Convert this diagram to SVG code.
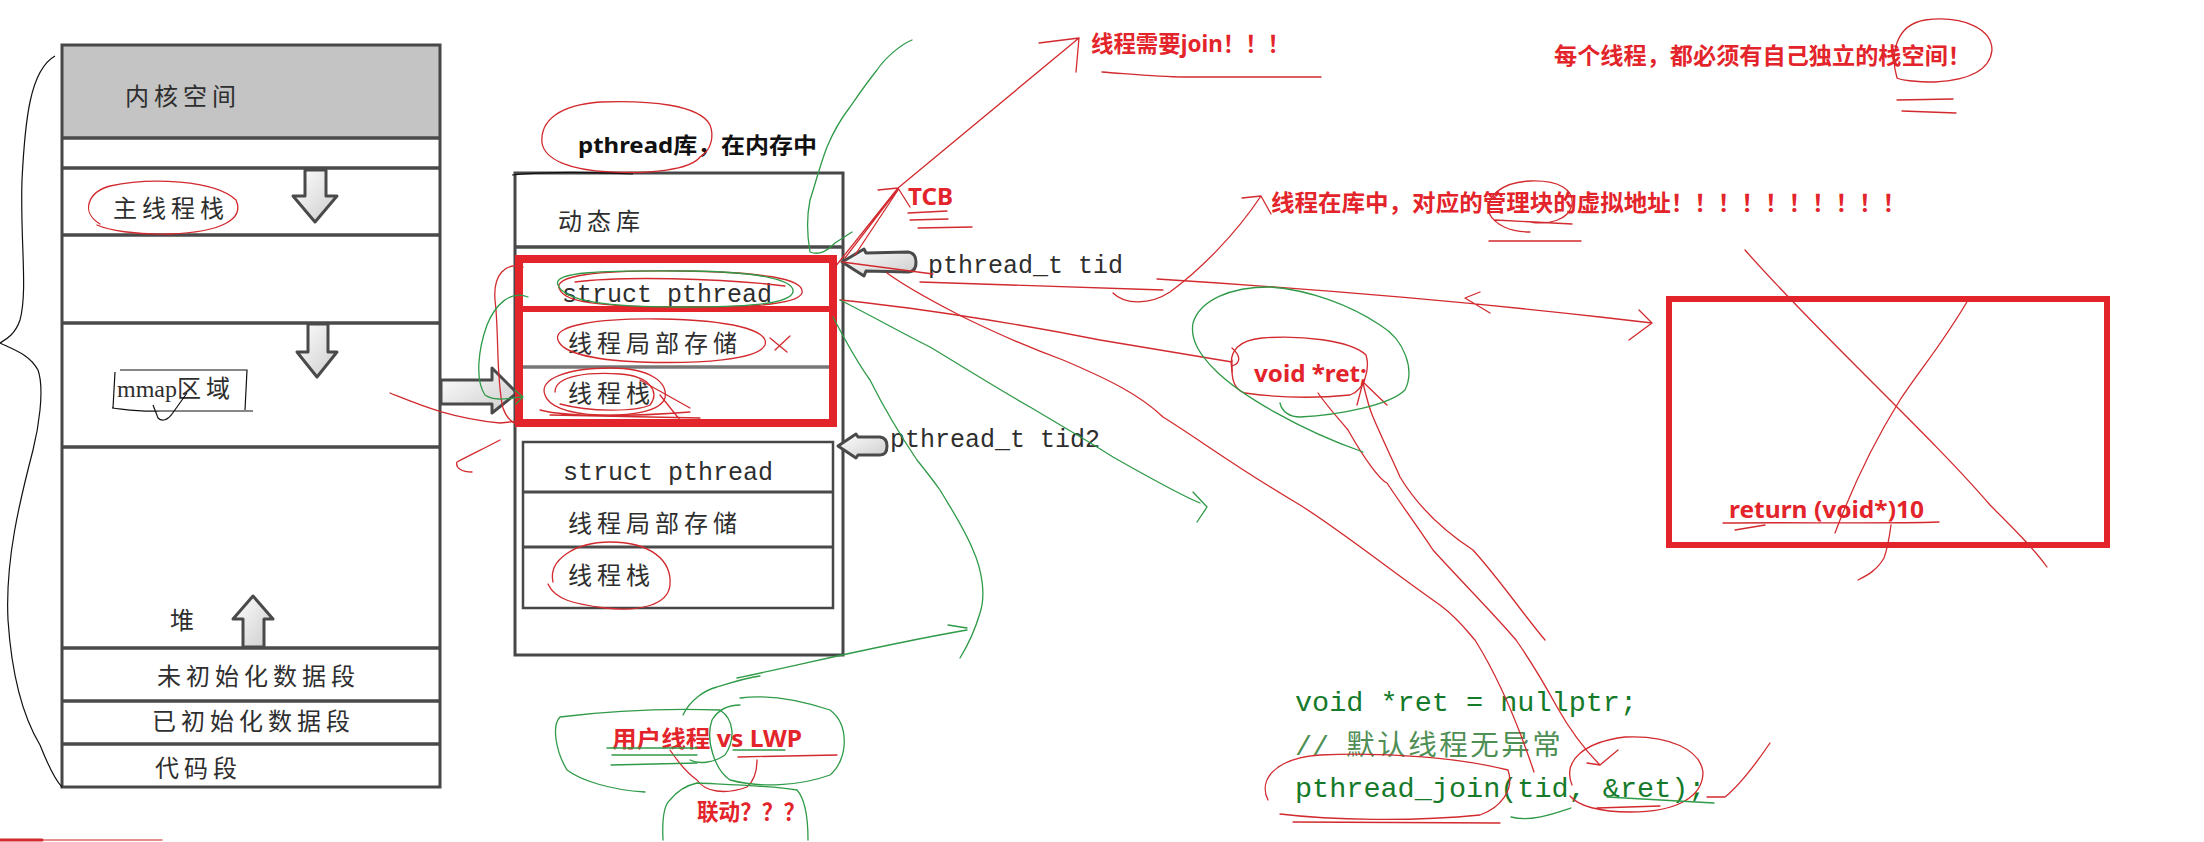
<svg xmlns="http://www.w3.org/2000/svg" width="2204" height="842" viewBox="0 0 2204 842">
<defs>
<style>
.cn{font-family:"Noto Sans CJK SC","Noto Sans",sans-serif;font-size:24px;fill:#2e2e2e;letter-spacing:5px}
.mono{font-family:"Liberation Mono","Noto Sans CJK SC",monospace;font-size:25px;fill:#2e2e2e}
.red{font-family:"Noto Sans","Noto Sans CJK SC",sans-serif;font-weight:bold;font-size:23px;fill:#e3242b}
.blk{font-family:"Noto Sans","Noto Sans CJK SC",sans-serif;font-weight:bold;font-size:22px;fill:#111}
.code{font-family:"Liberation Mono","Noto Sans CJK SC",monospace;font-size:28.5px;fill:#157a2a}
.cmt{fill:#4f8f55}
.frame{fill:none;stroke:#474747;stroke-width:3}
.div{stroke:#4a4a4a;stroke-width:3.5;fill:none}
.arr{fill:url(#ag);stroke:#4a4a4a;stroke-width:3;stroke-linejoin:round}
.rs{fill:none;stroke:#d22a2e;stroke-width:1.3;stroke-linecap:round;stroke-linejoin:round}
.gs{fill:none;stroke:#2f9a48;stroke-width:1.3;stroke-linecap:round;stroke-linejoin:round}
.ks{fill:none;stroke:#111;stroke-width:1.2}
.box{fill:none;stroke:#e3242b}
</style>
<linearGradient id="ag" x1="0" y1="0" x2="1" y2="1">
<stop offset="0" stop-color="#ffffff"/>
<stop offset="1" stop-color="#cccccc"/>
</linearGradient>
</defs>
<rect width="2204" height="842" fill="#ffffff"/>

<g id="address-space">
<rect x="62" y="45" width="378" height="93" fill="#c4c4c4"/>
<rect x="62" y="45" width="378" height="742" class="frame"/>
<path class="div" d="M62,138H440M62,168H440M62,235H440M62,323H440M62,447H440M62,648H440M62,701H440M62,744H440"/>
<text class="cn" x="125" y="105">内核空间</text>
<text class="cn" x="113" y="217">主线程栈</text>
<text class="cn" x="117" y="397" style="font-family:'Liberation Serif','Noto Sans CJK SC',serif;letter-spacing:0">mmap<tspan style="font-family:'Noto Sans CJK SC',sans-serif;letter-spacing:5px">区域</tspan></text>
<text class="cn" x="170" y="629">堆</text>
<text class="cn" x="157" y="685">未初始化数据段</text>
<text class="cn" x="152" y="730">已初始化数据段</text>
<text class="cn" x="155" y="777">代码段</text>
<polygon class="arr" points="305,170 326,170 326,196 337,196 315,222 293,196 305,196"/>
<polygon class="arr" points="308,324 328,324 328,352 337,352 317,377 297,352 308,352"/>
<polygon class="arr" points="253,596 273,619 264,619 264,647 243,647 243,619 233,619"/>
</g>

<g id="mmap-arrow">
<polygon class="arr" points="441,380 492,380 492,368 517,393 492,413 492,404 441,404"/>
</g>

<g id="pthread-library">
<text class="blk" x="578" y="153" textLength="239" lengthAdjust="spacingAndGlyphs">pthread库，在内存中</text>
<rect x="515" y="173" width="328" height="482" class="frame"/>
<path class="div" d="M515,247H843"/>
<text class="cn" x="558" y="230">动态库</text>
<path class="div" d="M523,367H830" style="stroke:#777"/>
<text class="mono" x="562" y="302">struct pthread</text>
<text class="cn" x="568" y="352">线程局部存储</text>
<text class="cn" x="568" y="402">线程栈</text>
<rect x="519" y="259" width="314" height="164" class="box" stroke-width="8"/>
<path class="box" stroke-width="6" d="M519,309H833"/>
<rect x="523" y="442" width="310" height="166" class="frame" style="stroke-width:2.5"/>
<path class="div" d="M523,492H833M523,547H833" style="stroke-width:3"/>
<text class="mono" x="563" y="480">struct pthread</text>
<text class="cn" x="568" y="532">线程局部存储</text>
<text class="cn" x="568" y="584">线程栈</text>
</g>

<g id="tid-labels">
<path class="arr" d="M842,262 L864,249 L866,253 L908,252 Q916,253 916,262 Q916,272 908,272 L866,271 L864,276 Z"/>
<text class="mono" x="928" y="273">pthread_t tid</text>
<path class="arr" d="M838,446 L856,434 L858,437 L880,437 Q887,438 887,446 Q887,455 880,455 L858,455 L856,458 Z"/>
<text class="mono" x="890" y="447">pthread_t tid2</text>
</g>

<g id="notes">
<text class="red" x="908" y="205" style="font-size:24px" textLength="45" lengthAdjust="spacingAndGlyphs">TCB</text>
<text class="red" x="1091" y="52" textLength="199" lengthAdjust="spacingAndGlyphs">线程需要join！！！</text>
<text class="red" x="1554" y="64" textLength="417" lengthAdjust="spacingAndGlyphs">每个线程，都必须有自己独立的栈空间！</text>
<text class="red" x="1271" y="211" textLength="635" lengthAdjust="spacingAndGlyphs">线程在库中，对应的管理块的虚拟地址！！！！！！！！！！</text>
<text class="red" x="1254" y="382" textLength="113" lengthAdjust="spacingAndGlyphs">void *ret;</text>
<text class="red" x="612" y="747" textLength="190" lengthAdjust="spacingAndGlyphs">用户线程 vs LWP</text>
<text class="red" x="697" y="820" textLength="108" lengthAdjust="spacingAndGlyphs">联动？？？</text>
</g>

<g id="thread-return-box">
<rect x="1669" y="299" width="438" height="246" fill="none" stroke="#e3242b" stroke-width="6"/>
<text class="red" x="1729" y="518" textLength="195" lengthAdjust="spacingAndGlyphs">return (void*)10</text>
</g>

<g id="join-code">
<text class="code" x="1295" y="711">void *ret = nullptr;</text>
<text class="code cmt" x="1295" y="755">// <tspan style="letter-spacing:2.5px">默认线程无异常</tspan></text>
<text class="code" x="1295" y="797">pthread_join(tid, &amp;ret);</text>
</g>

<g id="connectors">
<!-- red annotations -->
<path class="rs" d="M700,157 C690,170 650,174 610,172 C570,170 545,160 542,143 C540,120 560,105 600,102 C650,100 700,105 710,125 C714,135 712,150 700,157"/>
<path class="rs" d="M100,224 C80,212 88,192 110,186 C150,177 215,180 236,200 C245,220 220,232 170,234 C135,235 108,230 97,225"/>
<path class="rs" d="M560,290 C550,275 600,270 680,271 C760,272 805,278 802,293 C798,305 740,309 660,307 C600,306 565,302 560,290"/>
<path class="rs" d="M575,282 C620,276 720,278 785,286"/>
<path class="rs" d="M558,340 C552,325 600,318 660,319 C730,320 770,330 765,345 C758,360 700,364 640,362 C590,360 562,352 558,340 Z"/>
<path class="rs" d="M770,338 L787,352 M775,350 L790,336"/>
<path class="rs" d="M545,395 C538,378 570,368 610,368 C650,368 668,382 665,398 C660,412 630,416 600,415 C565,414 548,405 545,395"/>
<path class="rs" d="M555,392 C555,375 590,372 620,374 C650,376 660,392 650,405 C635,412 590,412 560,404"/>
<path class="rs" d="M540,410 C570,418 640,416 690,412 M550,415 L700,418 M640,380 L690,408 M660,395 L680,420"/>
<path class="rs" d="M553,582 C548,560 575,542 610,542 C650,542 672,560 670,585 C668,605 640,612 605,608 C575,604 555,600 548,584"/>
<path class="rs" d="M523,267 C505,262 493,275 495,300 C499,330 496,380 503,408 C507,420 515,424 520,425"/>
<path class="rs" d="M390,393 C420,405 450,418 500,423 L520,421 M500,440 C485,448 470,455 457,462 C455,468 462,472 472,472"/>
<path class="rs" d="M835,267 L898,188 M845,258 L898,189 M855,255 L898,190 M898,188 L1079,38 M878,190 L898,188 L910,207 M1039,43 L1079,38 L1076,72"/>
<path class="rs" d="M908,213 L947,211 M910,220 L948,219 M918,228 L972,227"/>
<path class="rs" d="M1102,72 C1130,74 1160,77 1183,77 L1321,77"/>
<path class="rs" d="M842,262 L933,274 M920,282 C1000,285 1080,288 1163,290 M1113,293 C1125,305 1150,305 1170,292 C1200,270 1235,235 1261,196 M1242,198 L1261,196 L1271,214"/>
<path class="rs" d="M1490,215 C1483,195 1505,182 1530,181 C1560,180 1574,190 1572,205 C1568,220 1550,225 1530,222 M1489,213 C1495,225 1510,232 1530,232 M1489,241 L1581,241 M1495,220 L1572,224"/>
<path class="rs" d="M1897,78 C1890,55 1895,25 1925,20 C1965,15 1992,30 1992,50 C1990,70 1970,80 1935,82 C1915,82 1900,80 1897,78 M1897,100 L1953,99 M1902,111 L1956,113"/>
<path class="rs" d="M840,300 C900,306 1000,320 1100,340 L1232,362 M1232,348 C1240,355 1242,363 1232,366 M1232,360 L1232,372"/>
<path class="rs" d="M1232,370 C1228,350 1240,340 1262,338 C1300,335 1350,340 1366,355 C1370,368 1365,390 1350,395 C1320,398 1280,398 1245,393 C1235,390 1232,380 1232,370"/>
<path class="rs" d="M887,273 C910,290 940,305 963,317 C1000,335 1030,348 1063,360 C1110,380 1140,395 1163,417 C1200,440 1240,470 1300,505 C1340,530 1390,570 1440,605 C1460,620 1470,635 1475,640 C1500,680 1520,730 1534,772"/>
<path class="rs" d="M1318,393 C1330,410 1340,420 1348,430 C1365,460 1380,480 1387,483 C1405,510 1420,530 1433,550 C1460,580 1495,615 1516,640 C1530,660 1545,685 1557,707 C1570,730 1585,750 1600,765 M1587,763 L1600,765 L1618,750"/>
<path class="rs" d="M1363,383 C1367,400 1370,410 1373,417 C1385,445 1395,465 1400,477 C1420,510 1450,535 1473,550 C1500,580 1520,610 1545,640 M1357,405 L1363,382 L1387,405"/>
<path class="rs" d="M1157,279 C1300,288 1450,300 1600,317 L1652,323 M1639,310 L1652,323 L1629,340 M1480,292 L1465,298 L1490,313"/>
<path class="rs" d="M1745,250 C1780,290 1830,340 1870,380 C1920,430 1960,470 1990,505 C2015,530 2035,550 2047,567"/>
<path class="rs" d="M1968,300 C1945,340 1920,370 1900,400 C1875,440 1855,480 1835,533"/>
<path class="rs" d="M1723,523 C1800,522 1880,524 1939,522 M1735,530 L1765,525 M1891,525 C1889,540 1887,550 1884,558 C1877,570 1868,575 1858,580"/>
<path class="rs" d="M1268,800 C1258,780 1275,758 1320,755 C1390,752 1460,758 1508,770 C1515,790 1500,808 1480,815 C1410,822 1330,820 1280,814 M1293,822 L1500,823"/>
<path class="rs" d="M1572,785 C1562,760 1585,742 1625,737 C1670,735 1700,750 1703,772 C1703,798 1675,812 1630,812 C1600,812 1578,806 1570,796 M1597,808 L1660,806 M1707,797 L1725,797 C1740,785 1755,765 1770,743"/>
<path class="rs" d="M738,757 L837,755 M670,750 C680,765 690,775 697,780 C705,792 725,795 747,787 C755,780 757,770 757,760"/>
<path class="rs" d="M0,840 L42,840" style="stroke-width:3"/>
<path class="rs" d="M42,840 L162,840" style="stroke-width:1.5;opacity:.7"/>
<!-- black sketch -->
<path class="ks" d="M115,372 L113,408 M120,370 L247,370 L245,410 M112,408 C130,410 140,412 160,411 L253,411 M153,405 L158,418 C162,422 168,420 172,414 L187,393"/>
<path class="ks" d="M55,56 C30,70 25,120 22,180 C20,240 28,290 20,320 C15,335 5,340 0,343 C15,350 30,355 38,370 C45,390 38,430 33,450 C20,500 5,560 8,620 C12,680 25,720 40,745 C48,765 55,780 62,787"/>
<path class="ks" d="M512,175 C540,172 590,172 633,174"/>
<!-- green annotations -->
<path class="gs" d="M912,40 C900,45 885,58 877,70 C865,85 857,97 850,107 C840,120 832,135 827,147 C820,165 815,185 810,200 C806,220 807,235 810,252 C820,256 828,250 835,243 L852,232"/>
<path class="gs" d="M558,285 C552,272 600,270 690,271 C760,272 795,280 793,292 C790,305 740,307 680,307 C610,307 565,302 558,285"/>
<path class="gs" d="M528,297 C510,290 495,305 487,325 C478,350 475,380 485,395 C495,402 510,398 523,397 M515,390 L523,397 L516,404"/>
<path class="gs" d="M840,300 C870,315 900,332 930,347 C965,368 1000,390 1030,407 C1060,425 1090,442 1113,457 C1150,478 1180,495 1200,503 M1193,492 L1207,507 L1197,522"/>
<path class="gs" d="M833,317 C845,340 857,362 870,380 C885,410 900,435 917,460 C925,470 933,480 940,490 C955,515 965,530 973,550 C982,570 986,595 980,613 C975,630 968,645 960,658 M948,625 L967,628"/>
<path class="gs" d="M737,678 C800,665 880,645 967,630"/>
<path class="gs" d="M683,715 C690,700 705,690 717,687 C730,683 745,678 760,676"/>
<path class="gs" d="M645,792 C610,790 580,780 567,770 C555,750 552,725 560,717 C600,712 660,708 720,710 C735,720 735,740 725,755 C715,762 700,765 690,760"/>
<path class="gs" d="M740,698 C770,694 800,700 830,710 C850,725 848,760 830,775 C800,786 760,788 730,780 C715,770 705,740 712,720 C718,710 728,705 740,705"/>
<path class="gs" d="M663,840 C662,820 664,805 670,800 C678,790 688,785 697,783 C740,785 775,786 797,790 C806,800 808,820 808,840"/>
<path class="gs" d="M607,748 L697,748 M612,755 L697,755 M611,765 L697,763 M733,750 L785,750"/>
<path class="gs" d="M1280,403 C1282,412 1290,417 1300,417 C1340,415 1390,405 1405,390 C1415,370 1405,340 1380,325 C1350,305 1310,290 1270,287 C1230,287 1200,300 1193,323 C1190,340 1200,355 1215,370 C1240,395 1300,430 1363,452"/>
<path class="gs" d="M1607,797 L1714,803 M1511,817 C1530,822 1550,815 1571,808"/>
</g>
</svg>
